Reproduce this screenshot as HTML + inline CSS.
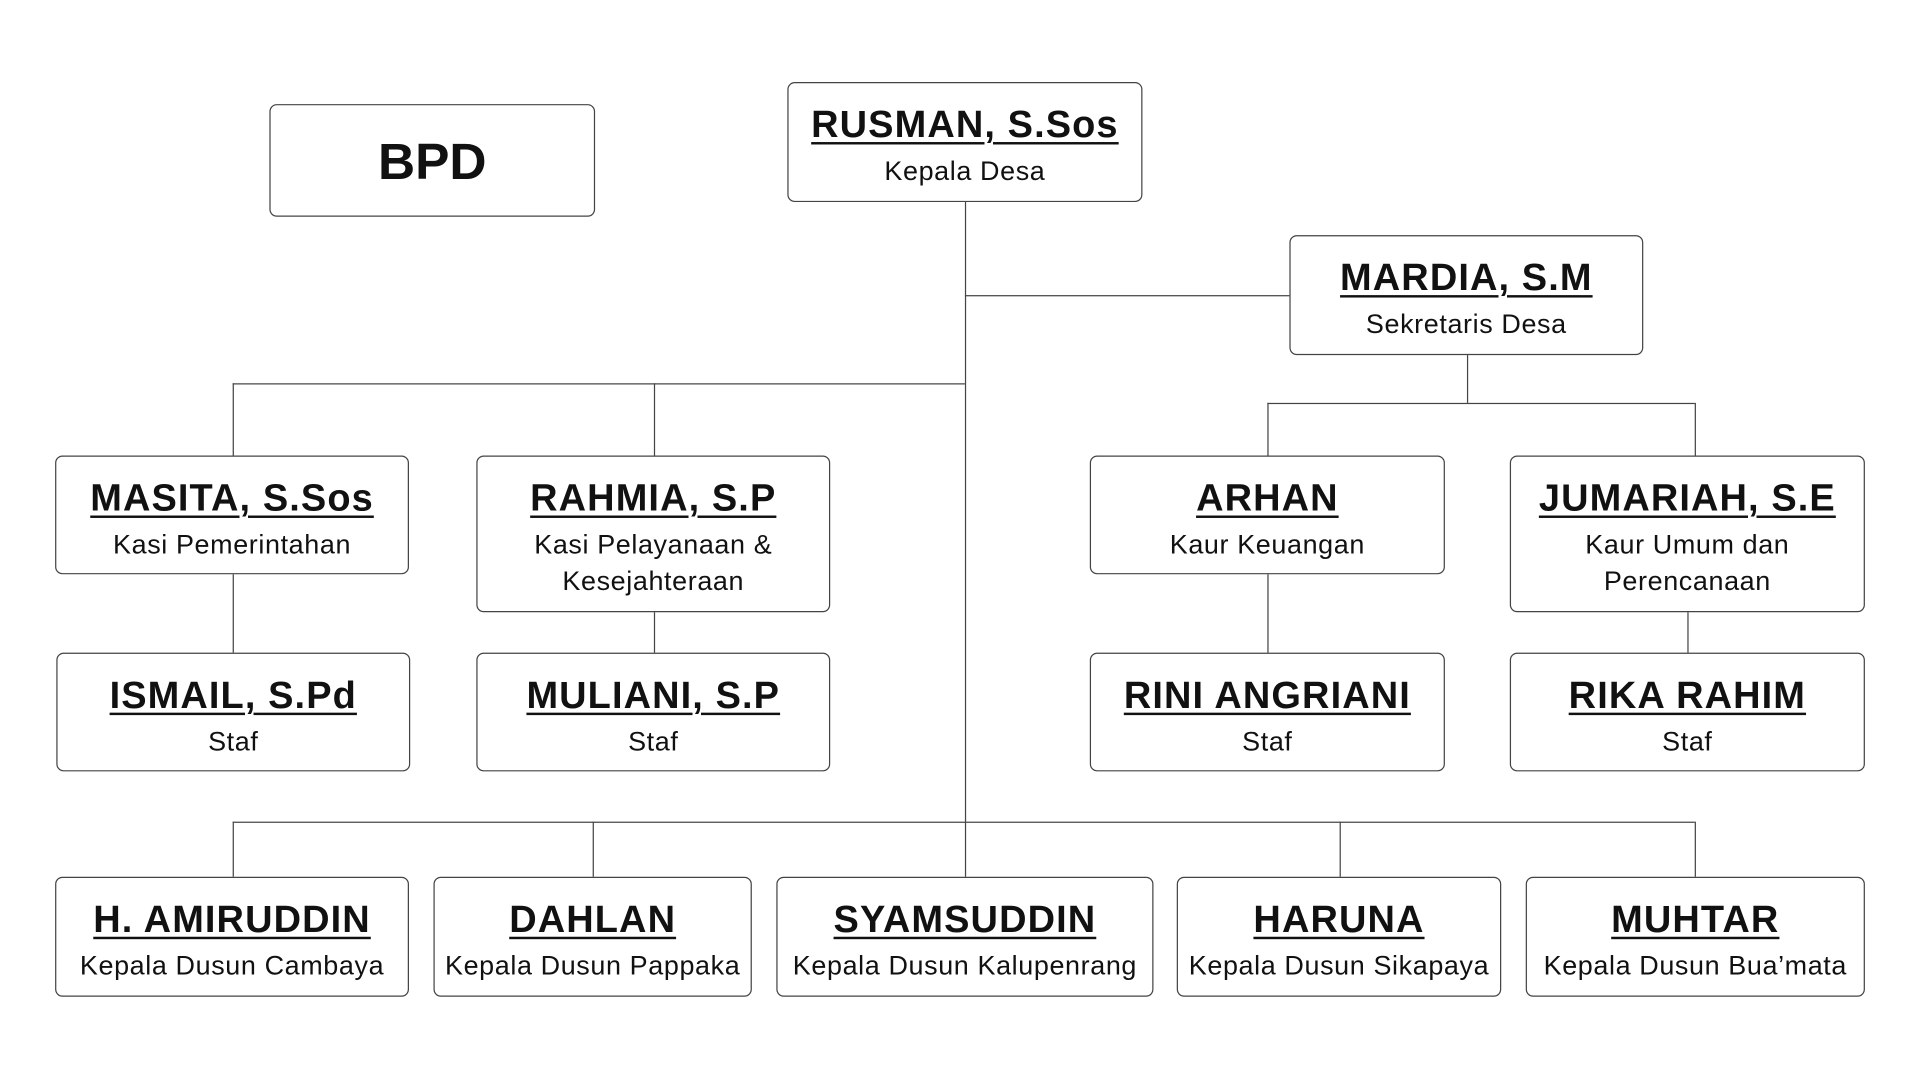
<!DOCTYPE html>
<html><head><meta charset="utf-8"><style>
html,body{margin:0;padding:0;background:#fff;width:1920px;height:1080px;overflow:hidden}
#w{position:absolute;left:0;top:0;width:1568px;height:882px;transform:scale(1.2245);transform-origin:0 0}
.b{position:absolute;box-sizing:border-box;border:1.3px solid #444;border-radius:6px;background:#fff;text-align:center;font-family:"Liberation Sans",sans-serif;color:#111}
.n{font-weight:bold;font-size:31px;text-decoration:underline;text-decoration-thickness:2px;text-underline-offset:4px;margin-top:16px;line-height:36px;letter-spacing:0.9px;white-space:nowrap}
.s{font-size:22px;line-height:30px;margin-top:5px;letter-spacing:0.5px;white-space:nowrap}
.l{position:absolute;background:#444}
</style></head><body><div id="w">
<div class="l" style="left:788px;top:165px;width:1px;height:551px"></div>
<div class="l" style="left:788px;top:241px;width:265px;height:1px"></div>
<div class="l" style="left:190px;top:313px;width:598px;height:1px"></div>
<div class="l" style="left:190px;top:313px;width:1px;height:59px"></div>
<div class="l" style="left:534px;top:313px;width:1px;height:59px"></div>
<div class="l" style="left:1198px;top:290px;width:1px;height:39px"></div>
<div class="l" style="left:1035px;top:329px;width:349px;height:1px"></div>
<div class="l" style="left:1035px;top:329px;width:1px;height:43px"></div>
<div class="l" style="left:1384px;top:329px;width:1px;height:43px"></div>
<div class="l" style="left:190px;top:469px;width:1px;height:64px"></div>
<div class="l" style="left:534px;top:500px;width:1px;height:33px"></div>
<div class="l" style="left:1035px;top:469px;width:1px;height:64px"></div>
<div class="l" style="left:1378px;top:500px;width:1px;height:33px"></div>
<div class="l" style="left:190px;top:671px;width:1194px;height:1px"></div>
<div class="l" style="left:190px;top:671px;width:1px;height:45px"></div>
<div class="l" style="left:484px;top:671px;width:1px;height:45px"></div>
<div class="l" style="left:1094px;top:671px;width:1px;height:45px"></div>
<div class="l" style="left:1384px;top:671px;width:1px;height:45px"></div>
<div class="b" style="left:220px;top:85px;width:266px;height:92px"><div style="font-weight:bold;font-size:42px;line-height:92px">BPD</div></div>
<div class="b" style="left:643px;top:67px;width:290px;height:98px"><div class="n">RUSMAN, S.Sos</div><div class="s">Kepala Desa</div></div>
<div class="b" style="left:1053px;top:192px;width:289px;height:98px"><div class="n">MARDIA, S.M</div><div class="s">Sekretaris Desa</div></div>
<div class="b" style="left:45px;top:372px;width:289px;height:97px"><div class="n">MASITA, S.Sos</div><div class="s">Kasi Pemerintahan</div></div>
<div class="b" style="left:389px;top:372px;width:289px;height:128px"><div class="n">RAHMIA, S.P</div><div class="s">Kasi Pelayanaan &amp;<br>Kesejahteraan</div></div>
<div class="b" style="left:890px;top:372px;width:290px;height:97px"><div class="n">ARHAN</div><div class="s">Kaur Keuangan</div></div>
<div class="b" style="left:1233px;top:372px;width:290px;height:128px"><div class="n">JUMARIAH, S.E</div><div class="s">Kaur Umum dan<br>Perencanaan</div></div>
<div class="b" style="left:46px;top:533px;width:289px;height:97px"><div class="n">ISMAIL, S.Pd</div><div class="s">Staf</div></div>
<div class="b" style="left:389px;top:533px;width:289px;height:97px"><div class="n">MULIANI, S.P</div><div class="s">Staf</div></div>
<div class="b" style="left:890px;top:533px;width:290px;height:97px"><div class="n">RINI ANGRIANI</div><div class="s">Staf</div></div>
<div class="b" style="left:1233px;top:533px;width:290px;height:97px"><div class="n">RIKA RAHIM</div><div class="s">Staf</div></div>
<div class="b" style="left:45px;top:716px;width:289px;height:98px"><div class="n">H. AMIRUDDIN</div><div class="s">Kepala Dusun Cambaya</div></div>
<div class="b" style="left:354px;top:716px;width:260px;height:98px"><div class="n">DAHLAN</div><div class="s">Kepala Dusun Pappaka</div></div>
<div class="b" style="left:634px;top:716px;width:308px;height:98px"><div class="n">SYAMSUDDIN</div><div class="s">Kepala Dusun Kalupenrang</div></div>
<div class="b" style="left:961px;top:716px;width:265px;height:98px"><div class="n">HARUNA</div><div class="s">Kepala Dusun Sikapaya</div></div>
<div class="b" style="left:1246px;top:716px;width:277px;height:98px"><div class="n">MUHTAR</div><div class="s">Kepala Dusun Bua’mata</div></div>
</div></body></html>
